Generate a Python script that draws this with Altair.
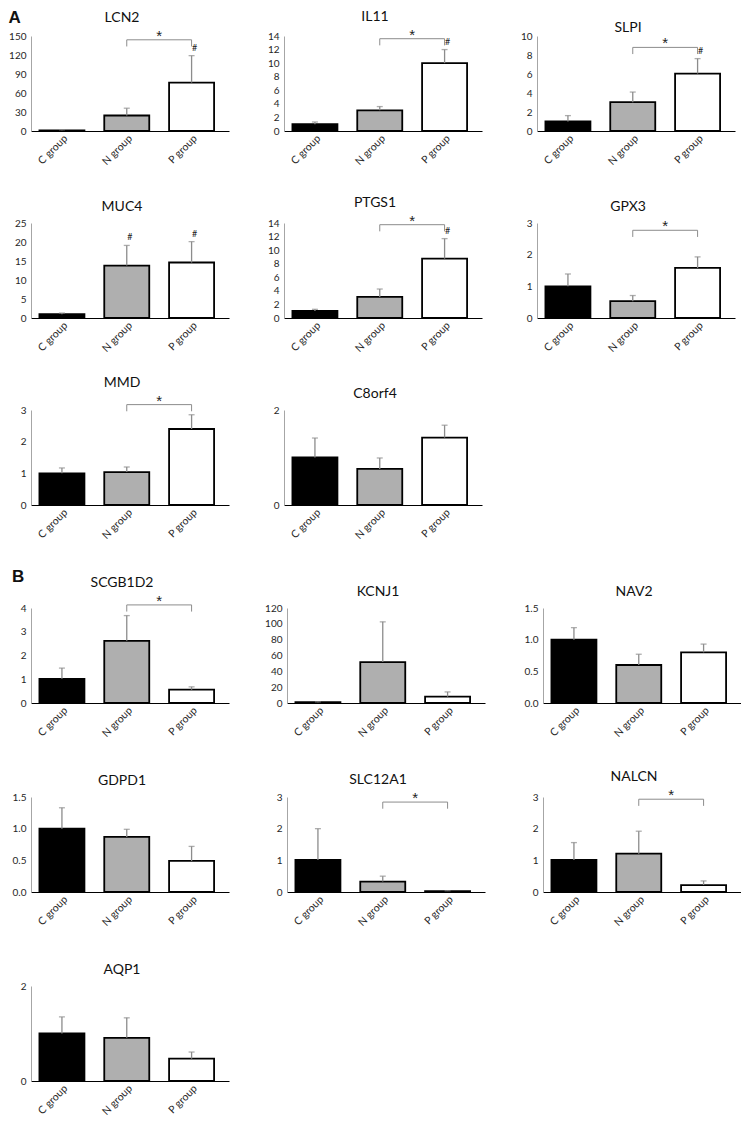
import json
import altair as alt
import pandas as pd

genes = ["LCN2", "IL11", "SLPI", "MUC4", "PTGS1", "GPX3", "MMD", "C8orf4",
         "SCGB1D2", "KCNJ1", "NAV2", "GDPD1", "SLC12A1", "NALCN", "AQP1"]
groups = ["C group", "N group", "P group"]

c_mean = [1.0, 1.0, 1.0, 1.0, 1.05, 1.0, 1.0, 1.0, 1.02, 1.0, 1.0, 1.0, 1.01, 1.01, 1.0]
c_err = [2.0, 1.33, 1.62, 1.3, 1.28, 1.39, 1.17, 1.41, 1.47, 1.5, 1.19, 1.33, 2.0, 1.56, 1.35]
n_mean = [24.5, 3.05, 3.03, 13.8, 3.1, 0.53, 1.04, 0.76, 2.62, 51.7, 0.6, 0.87, 0.33, 1.21, 0.91]
n_err = [36.0, 3.6, 4.1, 19.1, 4.27, 0.71, 1.2, 0.99, 3.68, 102.5, 0.77, 0.99, 0.5, 1.92, 1.33]
p_mean = [76.5, 10.0, 6.05, 14.6, 8.75, 1.58, 2.4, 1.42, 0.56, 8.0, 0.8, 0.49, 0.03, 0.22, 0.47]
p_err = [119.0, 12.0, 7.62, 20.1, 11.7, 1.93, 2.85, 1.68, 0.68, 14.0, 0.93, 0.72, 0.04, 0.35, 0.61]

y_ticks = [
    [0, 30, 60, 90, 120, 150],
    [0, 2, 4, 6, 8, 10, 12, 14],
    [0, 2, 4, 6, 8, 10],
    [0, 5, 10, 15, 20, 25],
    [0, 2, 4, 6, 8, 10, 12, 14],
    [0, 1, 2, 3],
    [0, 1, 2, 3],
    [0, 1, 2],
    [0, 1, 2, 3, 4],
    [0, 20, 40, 60, 80, 100, 120],
    [0.0, 0.5, 1.0, 1.5],
    [0.0, 0.5, 1.0, 1.5],
    [0, 1, 2, 3],
    [0, 1, 2, 3],
    [0, 1, 2],
]
y_format = ["d"] * 10 + [".1f", ".1f"] + ["d"] * 3

# significance bracket (N vs P) level, in data units; None = no bracket
sig_level = [144, 13.6, 8.8, None, 13.75, 2.77, 3.17, None,
             4.13, None, None, None, 2.84, 2.93, None]
# groups marked with "#"
hash_groups = [["P group"], ["P group"], ["P group"], ["N group", "P group"], ["P group"],
               [], [], [], [], [], [], [], [], [], []]

W, H = 198, 95
GRAY = "#8c8c8c"
label_expr = json.dumps(groups) + "[datum.value]"


def panel(i):
    ymax = y_ticks[i][-1]
    df = pd.DataFrame({
        "idx": [0, 1, 2],
        "group": groups,
        "mean": [c_mean[i], n_mean[i], p_mean[i]],
        "err": [c_err[i], n_err[i], p_err[i]],
    })
    xscale = alt.Scale(domain=[-0.4, 2.5], nice=False, zero=False)
    yscale = alt.Scale(domain=[0, ymax], nice=False)
    x_axis = alt.Axis(values=[0, 1, 2], labelExpr=label_expr, labelAngle=-45,
                      title=None, ticks=False, grid=False)
    y_axis = alt.Axis(values=y_ticks[i], format=y_format[i], title=None,
                      ticks=False, grid=False)

    def X(f):
        return alt.X(f, type="quantitative", scale=xscale, axis=x_axis)

    def Y(f):
        return alt.Y(f, type="quantitative", scale=yscale, axis=y_axis)

    bars = alt.Chart(df).mark_bar(size=45, stroke="black", strokeWidth=1.8).encode(
        x=X("idx"), y=Y("mean"),
        fill=alt.Fill("group:N", scale=alt.Scale(domain=groups,
                      range=["#000000", "#afafaf", "#ffffff"]), legend=None),
    )
    err = alt.Chart(df).mark_rule(color=GRAY, strokeWidth=1.3).encode(
        x=X("idx"), y=Y("mean"), y2="err:Q")
    cap = alt.Chart(df).mark_tick(orient="horizontal", size=6, thickness=1.3,
                                  color=GRAY).encode(x=X("idx"), y=Y("err"))
    layers = [bars, err, cap]

    lvl = sig_level[i]
    if lvl is not None:
        d = 0.07 * ymax
        br = pd.DataFrame({"idx": [1, 1, 2, 2], "mean": [lvl - d, lvl, lvl, lvl - d],
                           "o": [0, 1, 2, 3]})
        layers.append(alt.Chart(br).mark_line(color=GRAY, strokeWidth=1).encode(
            x=X("idx"), y=Y("mean"), order="o:Q"))
        st = pd.DataFrame({"idx": [1.5], "mean": [lvl]})
        layers.append(alt.Chart(st).mark_text(text="*", fontSize=15, baseline="bottom",
                                              dy=4, color="#222",
                                              font="Liberation Sans").encode(
            x=X("idx"), y=Y("mean")))
    if hash_groups[i]:
        hd = df[df["group"].isin(hash_groups[i])]
        layers.append(alt.Chart(hd).mark_text(text="#", fontSize=9, baseline="bottom",
                                              dx=3, dy=-3, color="#222", font="Lato").encode(
            x=X("idx"), y=Y("err")))

    toff = -4 if genes[i] == "SLPI" else 4
    return alt.layer(*layers).properties(
        width=W, height=H,
        title=alt.TitleParams(genes[i], dx=-8, offset=toff),
    )


def section(letter, dy):
    return alt.TitleParams(letter, anchor="start", fontSize=17, fontWeight="bold",
                           font="Liberation Sans", dy=dy, offset=0)


gridA = alt.concat(*[panel(i) for i in range(8)], columns=3,
                   spacing={"row": 92, "column": 55}, bounds="flush").properties(
    title=section("A", 17))
gridB = alt.concat(*[panel(i) for i in range(8, 15)], columns=3,
                   spacing={"row": 94, "column": 58}, bounds="flush").properties(
    title=section("B", 10))

chart = alt.vconcat(gridA, gridB, spacing=26).properties(
    padding={"left": 0, "top": 0, "right": 0, "bottom": 0}
).configure_view(stroke=None).configure_axis(
    labelFont="Lato", labelFontSize=10, labelColor="#262626", labelPadding=3,
).configure_axisX(domainColor="#000000", domainWidth=1, labelPadding=2,
                  labelFontSize=10.5).configure_axisY(
    domainColor="#a6a6a6", domainWidth=1, labelPadding=5
).configure_title(font="Lato", fontSize=14, fontWeight="normal", color="#111")

chart.save("out.html", embed_options={"renderer": "svg", "actions": False})
